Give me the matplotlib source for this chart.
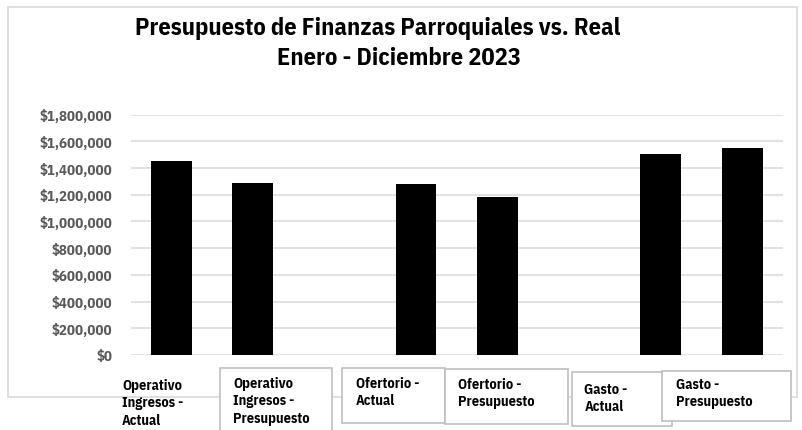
import matplotlib
matplotlib.use("Agg")
import matplotlib.pyplot as plt
from matplotlib.patches import Rectangle
from matplotlib.ticker import FuncFormatter, MultipleLocator

# datos del grafico
categorias = [
    "Operativo\nIngresos -\nActual",
    "Operativo\nIngresos -\nPresupuesto",
    "Ofertorio -\nActual",
    "Ofertorio -\nPresupuesto",
    "Gasto -\nActual",
    "Gasto -\nPresupuesto",
]
valores = [1450000, 1290000, 1280000, 1180000, 1508000, 1548000]
titulo = ["Presupuesto de Finanzas Parroquiales vs. Real", "Enero - Diciembre 2023"]

W, H = 803, 431
FONT = ["IBM Plex Sans Condensed", "Liberation Sans", "DejaVu Sans"]
GRIS = "#d9d9d9"


def px(x, y):
    """pixeles (desde arriba-izquierda) -> fraccion de figura"""
    return x / W, 1 - y / H


fig = plt.figure(figsize=(W / 100, H / 100), dpi=100)

# borde exterior del grafico
x0, y0 = px(8, 398)
x1, y1 = px(797, 8)
fig.patches.append(Rectangle((x0, y0), x1 - x0, y1 - y0, transform=fig.transFigure,
                             fill=False, ec=GRIS, lw=1.2, zorder=0))

ax = fig.add_axes([130.5 / W, 1 - 356 / H, (783.3 - 130.5) / W, (356 - 115.6) / H])

# grupos de dos barras con un hueco entre grupos
xs = [i + i // 2 for i in range(len(valores))]
ax.bar(xs, valores, width=0.5, color="black", zorder=3)
ax.set_xlim(-0.5, 7.5)
ax.set_ylim(0, 1800000)
ax.yaxis.set_major_locator(MultipleLocator(200000))
ax.yaxis.set_major_formatter(FuncFormatter(lambda v, p: f"${v:,.0f}"))
ax.grid(axis="y", color=GRIS, lw=1.1, zorder=0)
ax.set_xticks([])
for s in ax.spines.values():
    s.set_visible(False)
ax.tick_params(axis="y", length=0, pad=13, labelcolor="#595959")
for t in ax.get_yticklabels():
    t.set_family(FONT)
    t.set_fontweight("bold")
    t.set_fontsize(10.6)

# titulo
fig.text(*px(378, 28.5), titulo[0], ha="center", va="center", family=FONT,
         fontweight="bold", fontsize=17.6)
fig.text(*px(399, 58.5), titulo[1], ha="center", va="center", family=FONT,
         fontweight="bold", fontsize=17.6)

# etiquetas de categoria en cajas (la primera sin caja)
cajas = [None, (220.5, 332.3, 369, 440), (342.5, 445, 369, 424), (445, 568.3, 369.5, 425),
         (571.7, 671.7, 372.7, 426.5), (662, 790.7, 371.7, 422.3)]
texto_pos = [(122, 379), (233, 377), (356, 377), (458, 378), (584.5, 383), (676, 378)]
for cat, caja, (tx, ty) in zip(categorias, cajas, texto_pos):
    if caja is not None:
        bx0, by0 = px(caja[0], caja[3])
        bx1, by1 = px(caja[1], caja[2])
        fig.patches.append(Rectangle((bx0, by0), bx1 - bx0, by1 - by0,
                                     transform=fig.transFigure, fc="white",
                                     ec="#bfbfbf", lw=1.2, zorder=2))
    fig.text(*px(tx, ty), cat, ha="left", va="top", family=FONT, fontweight="bold",
             fontsize=10.3, linespacing=1.3, zorder=3)

fig.savefig("out.png", dpi=100, facecolor="white")
